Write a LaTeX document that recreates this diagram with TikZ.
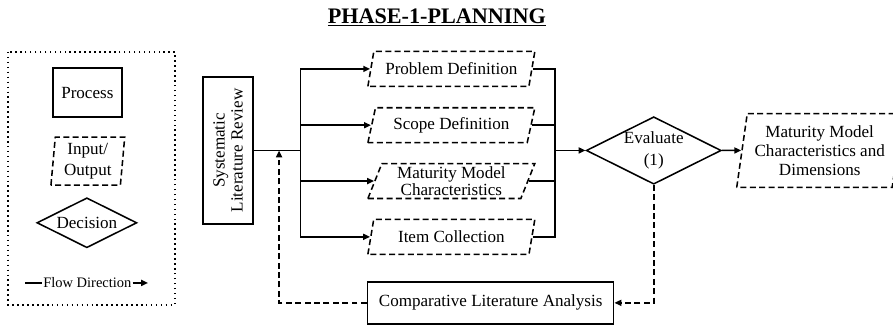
\documentclass[tikz,border=0pt]{standalone}
\usepackage{fontspec}
\setmainfont{Liberation Serif}
\usepackage{tikz}
\usetikzlibrary{
  shapes.geometric,
  arrows.meta,
  positioning,
  calc
}

\begin{document}
\begin{tikzpicture}[
  font=\rmfamily\fontsize{10}{10.5}\selectfont,
  proc/.style={rectangle, draw, line width=0.9pt, inner sep=1pt, align=center},
  io/.style={trapezium, trapezium stretches body, draw, dash pattern=on 3.5pt off 2pt, line width=0.9pt, inner xsep=1pt, inner ysep=0pt, align=center},
  dec/.style={diamond, aspect=2, draw, line width=0.9pt, inner sep=0pt, align=center},
  arr/.style={-{Triangle[length=4pt, width=3.5pt]}, line width=0.9pt},
  line/.style={line width=0.9pt},
  darr/.style={-{Triangle[length=4pt, width=3.5pt]}, line width=0.9pt, dash pattern=on 3.5pt off 2pt}
]
  \useasboundingbox (0,0) rectangle (18.40,-6.72);

  % title
  \node[font=\fontsize{13}{15}\selectfont\bfseries] (title) at (9.00,-0.36) {\underline{PHASE-1-PLANNING}};

  % legend
  \draw[dotted, line width=0.9pt] (0.165,-1.07) rectangle (3.605,-6.28);
  \node[proc, minimum width=1.42cm, minimum height=1.01cm] (process) at (1.80,-1.91) {Process};
  \node[io, trapezium left angle=83, trapezium right angle=97, minimum width=1.52cm, minimum height=0.99cm,
        font=\fontsize{10}{12}\selectfont] (inout) at (1.81,-3.32) {Input/\\Output};
  \node[dec, minimum width=2.06cm, minimum height=1.03cm] (decision) at (1.79,-4.59) {Decision};
  \node[font=\fontsize{8.5}{10}\selectfont, inner sep=0.5pt] (flow) at (1.80,-5.83) {Flow Direction};
  \coordinate (flowstart) at (0.52,-5.83);
  \coordinate (flowend) at (3.05,-5.83);
  \draw[line] (flowstart) -- (flow.west);
  \draw[arr] (flow.east) -- (flowend);

  % main flow
  \node[proc, rotate=90, minimum width=3.03cm, minimum height=1.03cm] (slr) at (4.70,-3.10) {Systematic\\Literature Review};
  \node[io, trapezium left angle=64, trapezium right angle=116, minimum width=3.44cm, minimum height=0.72cm] (problem) at (9.30,-1.42) {Problem Definition};
  \node[io, trapezium left angle=64, trapezium right angle=116, minimum width=3.44cm, minimum height=0.72cm] (scope) at (9.30,-2.58) {Scope Definition};
  \node[io, trapezium left angle=64, trapezium right angle=116, minimum width=3.44cm, minimum height=0.72cm,
        font=\fontsize{10}{9.8}\selectfont] (charac) at (9.30,-3.73) {Maturity Model\\Characteristics};
  \node[io, trapezium left angle=64, trapezium right angle=116, minimum width=3.44cm, minimum height=0.72cm] (items) at (9.30,-4.88) {Item Collection};
  \node[dec, minimum width=2.78cm, minimum height=1.38cm, font=\fontsize{10}{13}\selectfont] (evaluate) at (13.47,-3.10) {Evaluate\\(1)};
  \node[io, trapezium left angle=78, trapezium right angle=102, minimum width=3.42cm, minimum height=1.52cm,
        font=\fontsize{10}{11}\selectfont] (result) at (16.89,-3.10) {Maturity Model\\Characteristics and\\Dimensions};
  \node[proc, minimum width=5.07cm, minimum height=0.87cm] (compare) at (10.11,-6.24) {Comparative Literature Analysis};

  \coordinate (split) at (6.19,-3.10);
  \coordinate (merge) at (11.43,-3.10);
  \coordinate (back) at (5.75,-3.10);

  \draw[line] (slr.south) -- (split);
  \draw[arr] (split) |- (problem.west);
  \draw[arr] (split) |- (scope.west);
  \draw[arr] (split) |- (charac.west);
  \draw[arr] (split) |- (items.west);

  \draw[line] (problem.east) -| (merge);
  \draw[line] (scope.east) -| (merge);
  \draw[line] (charac.east) -| (merge);
  \draw[line] (items.east) -| (merge);
  \draw[arr] (merge) -- (evaluate.west);
  \draw[arr] (evaluate.east) -- (result.west);

  \draw[darr] (evaluate.south) |- (compare.east);
  \draw[darr] (compare.west) -| (back);
\end{tikzpicture}
\end{document}
